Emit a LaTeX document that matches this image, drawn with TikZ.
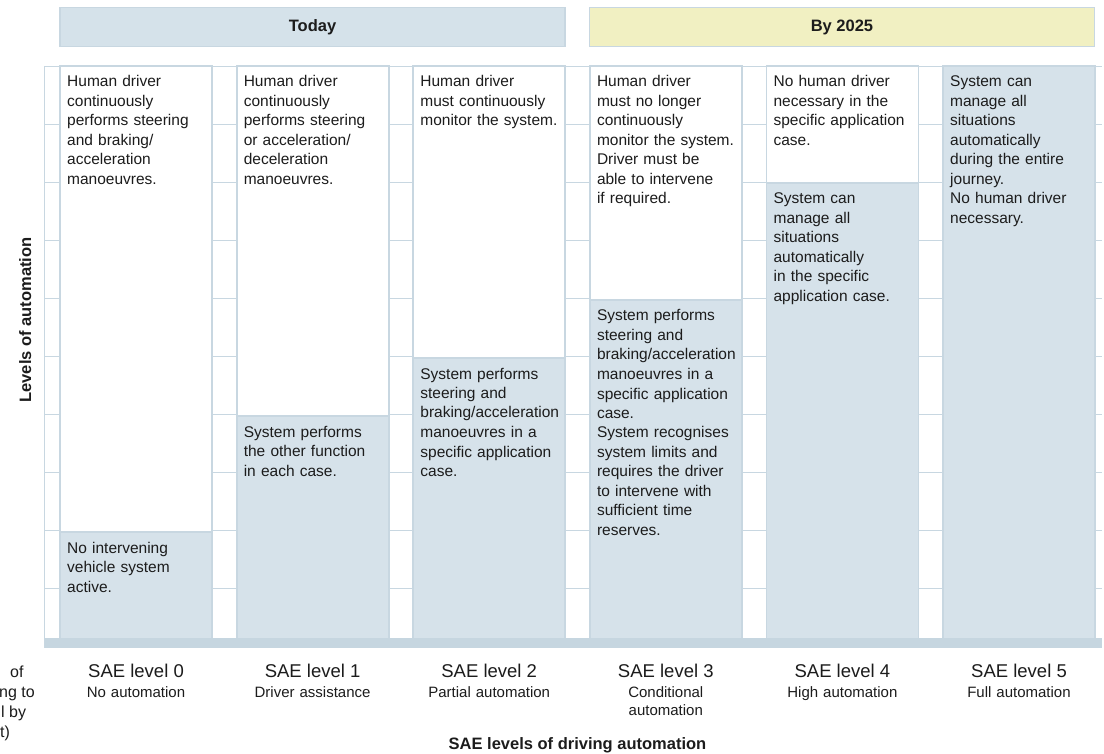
\documentclass[tikz,border=0pt]{standalone}
\usepackage{fontspec}
\setmainfont{Liberation Sans}
\definecolor{cellblue}{HTML}{D6E2EA}
\definecolor{rulecol}{HTML}{C8D7E1}
\definecolor{barcol}{HTML}{C6D6E0}
\definecolor{hdrblue}{HTML}{D5E2EA}
\definecolor{hdryellow}{HTML}{F1F0C2}
\definecolor{ink}{HTML}{1C1C1C}
\begin{document}
\begin{tikzpicture}[x=1pt,y=-1pt,
  gridline/.style={draw=rulecol,line width=1.8pt},
  hdrbox/.style={draw=rulecol,line width=1.5pt,minimum width=505pt,minimum height=39pt,
    inner sep=0pt,font=\fontsize{16.5}{19}\selectfont\bfseries,text=ink},
  celltext/.style={anchor=base west,inner sep=0pt,text width=148pt,align=left,
    font=\fontsize{15.5}{19.5}\selectfont,text=ink},
  levelname/.style={anchor=base,inner sep=0pt,font=\fontsize{18.5}{20}\selectfont,text=ink},
  leveldesc/.style={anchor=base,inner sep=0pt,text width=160pt,align=center,
    font=\fontsize{15}{18}\selectfont,text=ink},
  fragment/.style={anchor=base west,inner sep=0pt,font=\fontsize{16}{20}\selectfont,text=ink}]
\useasboundingbox (0,0) rectangle (1104,754);
\fill[white] (0,0) rectangle (1104,754);

% header bars
\node[hdrbox,fill=hdrblue] (today) at (312.5,27) {Today};
\node[hdrbox,fill=hdryellow] (by2025) at (842,27) {By 2025};

% background grid and axis
\foreach \k in {0,...,9}
  \draw[gridline] (45,66.5+58*\k) -- (1102,66.5+58*\k);
\draw[gridline] (44.5,66) -- (44.5,648);
\fill[barcol] (45,638) rectangle (1102,648);

% columns: white (human) part above, blue (system) part below
\foreach \i/\split in {0/532,1/416,2/358,3/300,4/183,5/66}{
  \pgfmathsetmacro{\xl}{60+176.6*\i}
  \pgfmathsetmacro{\xr}{\xl+152}
  \fill[white] (\xl,66) rectangle (\xr,\split);
  \fill[cellblue] (\xl,\split) rectangle (\xr,638);
  \draw[rulecol,line width=1.8pt] (\xl,\split) -- (\xr,\split);
  \draw[rulecol,line width=1.8pt] (\xl,638) -- (\xl,66) -- (\xr,66) -- (\xr,638);
}

% level 0
\node[celltext] (h0) at (67,87) {Human driver\\continuously\\performs steering\\and braking/\\acceleration\\manoeuvres.};
\node[celltext] (s0) at (67,553) {No intervening\\vehicle system\\active.};
% level 1
\node[celltext] (h1) at (243.6,87) {Human driver\\continuously\\performs steering\\or acceleration/\\deceleration\\manoeuvres.};
\node[celltext] (s1) at (243.6,437) {System performs\\the other function\\in each case.};
% level 2
\node[celltext] (h2) at (420.2,87) {Human driver\\must continuously\\monitor the system.};
\node[celltext] (s2) at (420.2,379) {System performs\\steering and\\braking/acceleration\\manoeuvres in a\\specific application\\case.};
% level 3
\node[celltext] (h3) at (596.8,87) {Human driver\\must no longer\\continuously\\monitor the system.\\Driver must be\\able to intervene\\if required.};
\node[celltext] (s3) at (596.8,321) {System performs\\steering and\\braking/acceleration\\manoeuvres in a\\specific application\\case.\\System recognises\\system limits and\\requires the driver\\to intervene with\\sufficient time\\reserves.};
% level 4
\node[celltext] (h4) at (773.4,87) {No human driver\\necessary in the\\specific application\\case.};
\node[celltext] (s4) at (773.4,204) {System can\\manage all\\situations\\automatically\\in the specific\\application case.};
% level 5
\node[celltext] (s5) at (950,87) {System can\\manage all\\situations\\automatically\\during the entire\\journey.\\No human driver\\necessary.};

% level captions
\node[levelname] (n0) at (136,677) {SAE level 0};
\node[leveldesc] (d0) at (136,697) {No automation};
\node[levelname] (n1) at (312.6,677) {SAE level 1};
\node[leveldesc] (d1) at (312.6,697) {Driver assistance};
\node[levelname] (n2) at (489.2,677) {SAE level 2};
\node[leveldesc] (d2) at (489.2,697) {Partial automation};
\node[levelname] (n3) at (665.8,677) {SAE level 3};
\node[leveldesc] (d3) at (665.8,697) {Conditional\\automation};
\node[levelname] (n4) at (842.4,677) {SAE level 4};
\node[leveldesc] (d4) at (842.4,697) {High automation};
\node[levelname] (n5) at (1019,677) {SAE level 5};
\node[leveldesc] (d5) at (1019,697) {Full automation};

% axis titles
\node[anchor=base,inner sep=0pt,font=\fontsize{16.5}{19}\selectfont\bfseries,text=ink]
  (xtitle) at (577.5,749) {SAE levels of driving automation};
\node[anchor=base,rotate=90,inner sep=0pt,font=\fontsize{16.5}{19}\selectfont\bfseries,text=ink]
  (ytitle) at (31,320) {Levels of automation};

% text running in from the left margin
\node[fragment] (f1) at (10,677) {of};
\node[fragment] (f2) at (-1,697) {ng to};
\node[fragment] (f3) at (1,717) {l by};
\node[fragment] (f4) at (0,737) {t)};
\end{tikzpicture}
\end{document}
